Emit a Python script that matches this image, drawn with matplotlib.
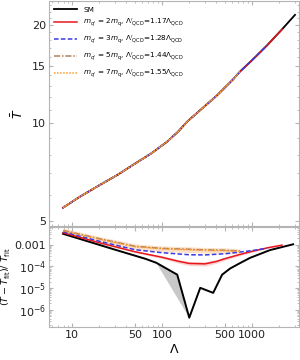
import numpy as np
import matplotlib
matplotlib.use("Agg")
import matplotlib.pyplot as plt
from matplotlib.ticker import FixedLocator, FixedFormatter, NullFormatter, LogLocator

# top panel: T-bar vs Lambda (all curves lie on top of each other)
lam_T = [7.9, 12, 20.5, 32, 47.6, 75, 113, 150, 190, 280, 400, 612, 735, 1000, 1460, 2150, 3000]
T_sm = [5.49, 5.92, 6.46, 6.93, 7.44, 8.05, 8.75, 9.4, 10.1, 11.1, 12.1, 13.6, 14.4, 15.6, 17.3, 19.4, 21.5]
end_idx = {"red": 15, "blue": 14, "brown": 12, "orange": 12}

# bottom panel: relative deviation
lam_sm = [7.9, 30, 65, 86, 147, 200, 265, 369, 464, 570, 750, 950, 1585, 2860]
dev_sm = [3.2e-3, 5.9e-4, 2.26e-4, 1.48e-4, 4.2e-5, 4.4e-7, 1.04e-5, 6.1e-6, 4.2e-5, 8.1e-5, 1.5e-4, 2.5e-4, 5.7e-4, 1.05e-3]

lam_red = [7.9, 20, 50, 100, 150, 200, 300, 400, 500, 700, 1000, 1500, 2150]
dev_red = [3.57e-3, 1.24e-3, 4.75e-4, 2.65e-4, 1.75e-4, 1.38e-4, 1.32e-4, 1.7e-4, 2.3e-4, 3.4e-4, 5.0e-4, 7.3e-4, 9.6e-4]
red_lo = [3.4e-3, 1.15e-3, 4.3e-4, 2.3e-4, 1.45e-4, 1.1e-4, 1.05e-4, 1.4e-4, 1.95e-4, 3.0e-4, 4.5e-4, 6.9e-4, 9.3e-4]
red_hi = [3.8e-3, 1.33e-3, 5.2e-4, 3.0e-4, 2.1e-4, 1.7e-4, 1.65e-4, 2.05e-4, 2.7e-4, 3.8e-4, 5.5e-4, 7.6e-4, 9.9e-4]

lam_blue = [7.9, 20, 50, 100, 200, 300, 500, 700, 1000, 1460]
dev_blue = [3.97e-3, 1.45e-3, 5.9e-4, 4.3e-4, 3.46e-4, 3.4e-4, 3.85e-4, 4.5e-4, 5.4e-4, 6.9e-4]

lam_or = [7.9, 20, 50, 100, 200, 300, 500, 735]
dev_or = [4.4e-3, 1.8e-3, 8.1e-4, 6.5e-4, 5.9e-4, 5.5e-4, 5.3e-4, 4.9e-4]
dev_br = [4.6e-3, 1.9e-3, 8.5e-4, 6.8e-4, 6.2e-4, 5.8e-4, 5.6e-4, 5.1e-4]
or_lo = [3.4e-3, 1.35e-3, 6.0e-4, 4.8e-4, 4.4e-4, 4.1e-4, 4.0e-4, 4.0e-4]
or_hi = [5.8e-3, 2.4e-3, 1.1e-3, 8.8e-4, 8.0e-4, 7.5e-4, 7.2e-4, 6.4e-4]

# gray wedge below SM curve
lam_wedge = [86, 147, 200]
dev_wedge = [1.48e-4, 4.2e-5, 4.4e-7]

labels = ["SM",
          r"$m_{q'}$ = 2$m_{\rm q}$, $\Lambda'_{\rm QCD}$=1.17$\Lambda_{\rm QCD}$",
          r"$m_{q'}$ = 3$m_{\rm q}$, $\Lambda'_{\rm QCD}$=1.28$\Lambda_{\rm QCD}$",
          r"$m_{q'}$ = 5$m_{\rm q}$, $\Lambda'_{\rm QCD}$=1.44$\Lambda_{\rm QCD}$",
          r"$m_{q'}$ = 7$m_{\rm q}$, $\Lambda'_{\rm QCD}$=1.55$\Lambda_{\rm QCD}$"]

c_red = "#e8161b"
c_blue = "#3a3ae6"
c_brown = "#b0805a"
c_or = "#ff9a2e"
frame = "#b4b4b4"

plt.rcParams["font.family"] = "DejaVu Sans"
plt.rcParams["mathtext.fontset"] = "dejavusans"

fig = plt.figure(figsize=(3.0, 3.6), dpi=100)
ax1 = fig.add_axes([0.163, 0.372, 0.834, 0.625])
ax2 = fig.add_axes([0.163, 0.092, 0.834, 0.278])

for ax in (ax1, ax2):
    ax.set_xscale("log")
    ax.set_yscale("log")
    ax.set_xlim(5.5, 3330)
    for s in ax.spines.values():
        s.set_color(frame)
        s.set_linewidth(0.8)
    ax.tick_params(which="both", direction="in", color=frame, top=True, right=True,
                   labelsize=8, labelcolor="#222222", pad=2)
    ax.tick_params(which="major", length=3)
    ax.tick_params(which="minor", length=1.5)

# top panel
n = end_idx
ax1.plot(lam_T, T_sm, color="black", lw=1.3, label=labels[0])
ax1.plot(lam_T[:n["red"] + 1], T_sm[:n["red"] + 1], color=c_red, lw=1.1, label=labels[1])
ax1.plot(lam_T[:n["blue"] + 1], T_sm[:n["blue"] + 1], color=c_blue, lw=1.1, ls=(0, (3, 1.5)), label=labels[2])
ax1.plot(lam_T[:n["brown"] + 1], T_sm[:n["brown"] + 1], color=c_brown, lw=1.1, ls=(0, (4, 1.2, 1, 1.2)), label=labels[3])
ax1.plot(lam_T[:n["orange"] + 1], T_sm[:n["orange"] + 1], color=c_or, lw=1.1, ls=(0, (1, 1)), label=labels[4])
ax1.set_ylim(4.82, 23.7)
ax1.yaxis.set_major_locator(FixedLocator([5, 10, 15, 20]))
ax1.yaxis.set_major_formatter(FixedFormatter(["5", "10", "15", "20"]))
ax1.yaxis.set_minor_locator(FixedLocator([6, 7, 8, 9, 11, 12, 13, 14, 16, 17, 18, 19, 21, 22, 23]))
ax1.yaxis.set_minor_formatter(NullFormatter())
ax1.xaxis.set_major_formatter(NullFormatter())
ax1.xaxis.set_minor_formatter(NullFormatter())
ax1.set_ylabel(r"$\bar{T}$", fontsize=9, labelpad=4)
ax1.legend(loc="upper left", frameon=False, fontsize=5.2, handlelength=3.2,
           labelspacing=0.6, borderaxespad=0.35, handletextpad=0.8)

# bottom panel
ax2.fill(lam_wedge, dev_wedge, color="#c8c8c8", lw=0)
ax2.fill_between(lam_red, red_lo, red_hi, color="#f7b3b3", alpha=0.6, lw=0)
ax2.fill_between(lam_or, or_lo, or_hi, color="#f9c99a", alpha=0.55, lw=0)
ax2.plot(lam_sm, dev_sm, color="black", lw=1.4)
ax2.plot(lam_red, dev_red, color=c_red, lw=1.1)
ax2.plot(lam_blue, dev_blue, color=c_blue, lw=1.1, ls=(0, (3, 1.5)))
ax2.plot(lam_or, dev_br, color=c_brown, lw=1.1, ls=(0, (4, 1.2, 1, 1.2)))
ax2.plot(lam_or, dev_or, color=c_or, lw=1.1, ls=(0, (1, 1)))
ax2.set_ylim(1.66e-7, 6.7e-3)
ax2.yaxis.set_major_locator(FixedLocator([1e-3, 1e-4, 1e-5, 1e-6]))
ax2.yaxis.set_major_formatter(FixedFormatter(["0.001", r"$10^{-4}$", r"$10^{-5}$", r"$10^{-6}$"]))
ax2.yaxis.set_minor_locator(LogLocator(base=10, subs=np.arange(2, 10)))
ax2.yaxis.set_minor_formatter(NullFormatter())
ax2.xaxis.set_major_locator(FixedLocator([10, 50, 100, 500, 1000]))
ax2.xaxis.set_major_formatter(FixedFormatter(["10", "50", "100", "500", "1000"]))
ax2.xaxis.set_minor_formatter(NullFormatter())
ax2.set_ylabel(r"$(\bar{T}-\bar{T}_{\rm fit})/\ \bar{T}_{\rm fit}$", fontsize=6.8, labelpad=1)
ax2.set_xlabel(r"$\Lambda$", fontsize=9)
ax2.xaxis.set_label_coords(0.5, -0.16)

fig.savefig("out.png", dpi=100)
